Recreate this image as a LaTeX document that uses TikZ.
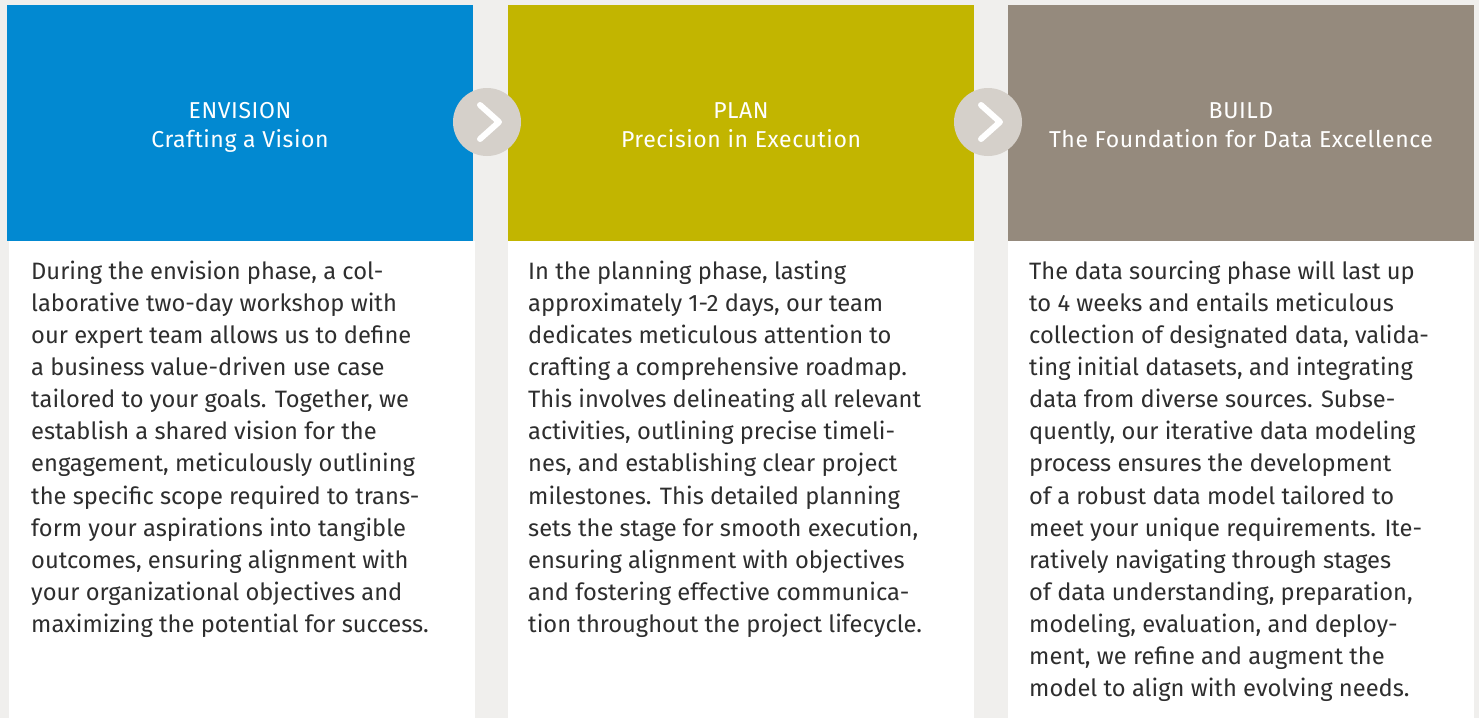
\documentclass[tikz,border=0pt]{standalone}
\usepackage{fontspec}
\setmainfont{Fira Sans}
\definecolor{bgc}{HTML}{F0EFED}
\definecolor{envc}{HTML}{0289D1}
\definecolor{planc}{HTML}{C2B500}
\definecolor{buildc}{HTML}{958A7D}
\definecolor{circc}{HTML}{D5D0CA}
\definecolor{txtc}{HTML}{2E2E2E}
\begin{document}
\begin{tikzpicture}[x=1pt,y=-1pt,
  head/.style={fill=#1,draw=none,minimum width=466pt,minimum height=236pt,inner sep=0pt,anchor=north west},
  card/.style={fill=white,draw=none,minimum width=466pt,minimum height=477pt,inner sep=0pt,anchor=north west},
  headtxt/.style={text=white,align=center,font=\fontsize{23}{29.5}\selectfont\addfontfeatures{LetterSpace=2.5},inner sep=0pt},
  bodytxt/.style={text=txtc,align=left,font=\fontsize{23.7}{32.05}\selectfont,inner sep=0pt,anchor=north west},
  arrowcirc/.style={circle,fill=circc,draw=none,minimum size=68pt,inner sep=0pt},
  chev/.style={white,line width=6pt,line cap=round,line join=round}]
\fill[bgc] (0,0) rectangle (1479,718);
\useasboundingbox (0,0) rectangle (1479,718);
% column 1
\node[head=envc] (h1) at (7,5) {};
\node[card] (c1) at (9,241) {};
\node[headtxt] (t1) at (240,127.5) {ENVISION\\Crafting a Vision\vphantom{g}};
\node[bodytxt] (b1) at (31,261) {During the envision phase, a col-\\
laborative two-day workshop with\\
our expert team allows us to define\\
a business value-driven use case\\
tailored to your goals. Together, we\\
establish a shared vision for the\\
engagement, meticulously outlining\\
the specific scope required to trans-\\
form your aspirations into tangible\\
outcomes, ensuring alignment with\\
your organizational objectives and\\
maximizing the potential for success.};
% column 2
\node[head=planc] (h2) at (508,5) {};
\node[card] (c2) at (508,241) {};
\node[headtxt] (t2) at (741,127.5) {PLAN\\Precision in Execution\vphantom{g}};
\node[bodytxt] (b2) at (528,261) {In the planning phase, lasting\\
approximately 1-2 days, our team\\
dedicates meticulous attention to\\
crafting a comprehensive roadmap.\\
This involves delineating all relevant\\
activities, outlining precise timeli-\\
nes, and establishing clear project\\
milestones. This detailed planning\\
sets the stage for smooth execution,\\
ensuring alignment with objectives\\
and fostering effective communica-\\
tion throughout the project lifecycle.};
% column 3
\node[head=buildc] (h3) at (1008,5) {};
\node[card] (c3) at (1008,241) {};
\node[headtxt] (t3) at (1241,127.5) {BUILD\\The Foundation for Data Excellence\vphantom{g}};
\node[bodytxt] (b3) at (1029,261) {The data sourcing phase will last up\\
to 4 weeks and entails meticulous\\
collection of designated data, valida-\\
ting initial datasets, and integrating\\
data from diverse sources. Subse-\\
quently, our iterative data modeling\\
process ensures the development\\
of a robust data model tailored to\\
meet your unique requirements. Ite-\\
ratively navigating through stages\\
of data understanding, preparation,\\
modeling, evaluation, and deploy-\\
ment, we refine and augment the\\
model to align with evolving needs.};
% arrows
\node[arrowcirc] (a1) at (487,122) {};
\node[arrowcirc] (a2) at (988,122) {};
\foreach \a in {a1,a2}{
  \draw[chev] ([shift={(-7,-17)}]\a.center) -- ([shift={(12,0)}]\a.center) -- ([shift={(-7,17)}]\a.center);
}
\end{tikzpicture}
\end{document}
